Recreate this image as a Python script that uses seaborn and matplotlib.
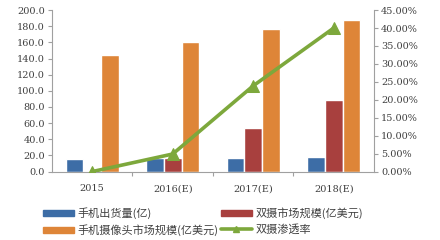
import matplotlib
matplotlib.use("Agg")
import matplotlib.pyplot as plt
import seaborn as sns
import pandas as pd
from matplotlib.ticker import FuncFormatter, MultipleLocator, FixedLocator
from matplotlib.patches import Patch
from matplotlib.lines import Line2D

years = ["2015", "2016(E)", "2017(E)", "2018(E)"]
phone_shipments = [15.0, 16.5, 16.5, 18.5]
dual_cam_market = [0.0, 16.5, 54.5, 88.5]
camera_market = [144.0, 161.0, 176.0, 188.0]
dual_cam_penetration = [0.0, 4.9, 23.9, 40.0]
series_names = ["手机出货量(亿)", "双摄市场规模(亿美元)", "手机摄像头市场规模(亿美元)"]
line_name = "双摄渗透率"

colors = ["#3D6DA6", "#A8403E", "#DE8538"]
green = "#7DA83C"

sns.set_theme(style="white")
plt.rcParams["font.family"] = ["Noto Sans CJK SC", "DejaVu Sans"]

df = pd.DataFrame({
    "year": years * 3,
    "value": phone_shipments + dual_cam_market + camera_market,
    "series": [series_names[0]] * 4 + [series_names[1]] * 4 + [series_names[2]] * 4,
})

fig = plt.figure(figsize=(4.4, 2.4), dpi=100)
ax = fig.add_axes([0.118, 0.285, 0.732, 0.673])
sns.barplot(data=df, x="year", y="value", hue="series", palette=colors,
            width=0.66, ax=ax, legend=False, saturation=1)
ax.set_xlim(-0.5, 3.5)
ax.set_ylim(0, 200)
ax.yaxis.set_major_locator(MultipleLocator(20))
ax.yaxis.set_major_formatter(FuncFormatter(lambda v, p: f"{v:.1f}"))
ax.set_xlabel("")
ax.set_ylabel("")

ax2 = ax.twinx()
sns.lineplot(x=list(range(4)), y=dual_cam_penetration, ax=ax2, color=green,
             linewidth=2.6, marker="^", markersize=9, markeredgecolor=green)
ax2.set_ylim(0, 45)
ax2.set_xlim(-0.5, 3.5)
ax2.yaxis.set_major_locator(MultipleLocator(5))
ax2.yaxis.set_major_formatter(FuncFormatter(lambda v, p: f"{v:.2f}%"))

for a in (ax, ax2):
    for s in a.spines.values():
        s.set_visible(False)
ax.spines["left"].set_visible(True)
ax.spines["bottom"].set_visible(True)
ax2.spines["right"].set_visible(True)
for a in (ax, ax2):
    for s in ("left", "bottom", "right"):
        a.spines[s].set_color("#A0A0A0")
        a.spines[s].set_linewidth(0.8)

ax.tick_params(axis="y", left=True, length=3, width=0.8, color="#A0A0A0",
               labelsize=7, labelcolor="#404040", pad=2)
ax2.tick_params(axis="y", right=True, length=3, width=0.8, color="#A0A0A0",
                labelsize=7, labelcolor="#404040", pad=2)
ax.xaxis.set_major_locator(FixedLocator([0, 1, 2, 3]))
ax.set_xticklabels(years)
ax.tick_params(axis="x", bottom=False, labelsize=7, labelcolor="#404040", pad=3)
ax.xaxis.set_minor_locator(FixedLocator([0.5, 1.5, 2.5]))
ax.tick_params(axis="x", which="minor", bottom=True, length=3, width=0.8, color="#A0A0A0")
for lbl in ax.get_yticklabels() + ax2.get_yticklabels() + ax.get_xticklabels():
    lbl.set_family(["DejaVu Serif"])

handles = [
    Patch(color=colors[0], label=series_names[0]),
    Patch(color=colors[2], label=series_names[2]),
    Patch(color=colors[1], label=series_names[1]),
    Line2D([0], [0], color=green, linewidth=2.6, marker="^", markersize=5, label=line_name),
]
fig.legend(handles=handles, loc="lower left", bbox_to_anchor=(0.075, -0.025), ncol=2,
           frameon=False, fontsize=8, handlelength=2.8, handleheight=0.45,
           columnspacing=0.2, labelspacing=0.45, handletextpad=0.3,
           labelcolor="#404040")

fig.savefig("out.png", dpi=100)
